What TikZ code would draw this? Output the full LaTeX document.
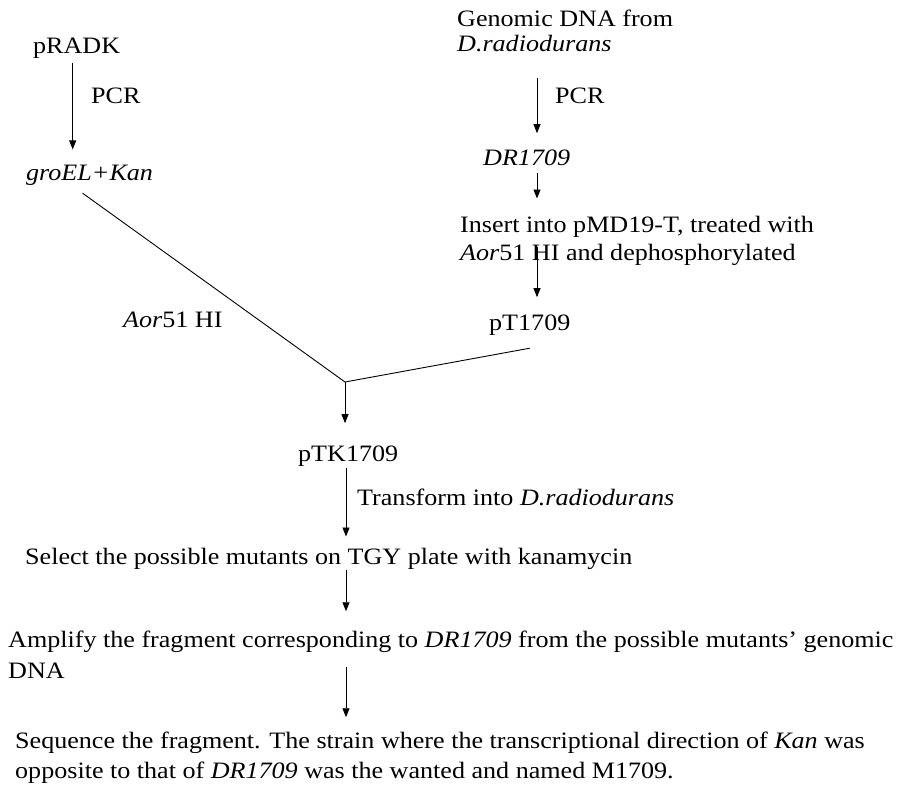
\documentclass[tikz,border=0pt]{standalone}
\usepackage{fontspec}
\setmainfont[FakeStretch=1.11]{Liberation Serif}
\usetikzlibrary{arrows.meta}
\tikzstyle{txt} = [inner sep=0pt, anchor=base west, align=left, font=\fontsize{23.5}{30}\selectfont]
\tikzstyle{arrow} = [line width=0.9pt, -{Triangle[length=9pt,width=7pt]}]
\tikzstyle{link} = [line width=0.9pt]

\begin{document}
\begin{tikzpicture}[x=1pt, y=-1pt]
	\useasboundingbox (0,0) rectangle (905,788);
	\coordinate (colL) at (72.7,0);
	\coordinate (colR) at (537,0);
	\coordinate (colM) at (346,0);
	\coordinate (join) at (345,382);
	% left branch
	\node (pradk) [txt] at (33,53) {pRADK};
	\node (pcrL) [txt] at (91,103) {PCR};
	\node (groel) [txt] at (26,180) {\textit{groEL+Kan}};
	\node (aor) [txt] at (123,327) {\textit{Aor}51 HI};
	% right branch
	\node (gdna) [txt, font=\fontsize{23.5}{25}\selectfont] at (457,51) {Genomic DNA from\\\textit{D.radiodurans}};
	\node (pcrR) [txt] at (555,103) {PCR};
	\node (dr) [txt] at (483,165) {\textit{DR1709}};
	\node (ins) [txt, font=\fontsize{23.5}{28}\selectfont] at (460,260) {Insert into pMD19-T, treated with\\\textit{Aor}51 HI and dephosphorylated};
	\node (pt) [txt] at (489,330) {pT1709};
	% common part
	\node (ptk) [txt] at (298,461) {pTK1709};
	\node (trans) [txt] at (357,505) {Transform into \textit{D.radiodurans}};
	\node (sel) [txt] at (25,564) {Select the possible mutants on TGY plate with kanamycin};
	\node (amp) [txt, font=\fontsize{23.5}{31}\selectfont] at (8,678) {Amplify the fragment corresponding to \textit{DR1709} from the possible mutants’ genomic\\DNA};
	\node (seq) [txt] at (15,778) {Sequence the fragment. The strain where the transcriptional direction of \textit{Kan} was\\opposite to that of \textit{DR1709} was the wanted and named M1709.};

	\draw [arrow, shorten <=26pt, shorten >=16pt] (gdna.south -| colR) -- (dr.north -| colR);
	\draw [arrow, shorten <=5pt, shorten >=15pt] (pradk.south -| colL) -- (groel.north -| colL);
	\draw [arrow, shorten <=8pt, shorten >=17pt] (dr.south -| colR) -- (ins.north -| colR);
	\draw [arrow, shorten <=-18pt, shorten >=17pt] (ins.south -| colR) -- (pt.north -| colR);
	\draw [link] ([xshift=-7pt, yshift=-8pt]groel.south) -- (join);
	\draw [link] ([yshift=-13pt]pt.south) -- (join);
	\draw [arrow, shorten >=22pt] (join) -- (join |- ptk.north);
	\draw [arrow, shorten <=2pt, shorten >=11pt] (ptk.south -| colM) -- (sel.north -| colM);
	\draw [arrow, shorten <=1pt, shorten >=19pt] (sel.south -| colM) -- (amp.north -| colM);
	\draw [arrow, shorten <=-11pt, shorten >=14pt] (amp.south -| colM) -- (seq.north -| colM);
\end{tikzpicture}
\end{document}
